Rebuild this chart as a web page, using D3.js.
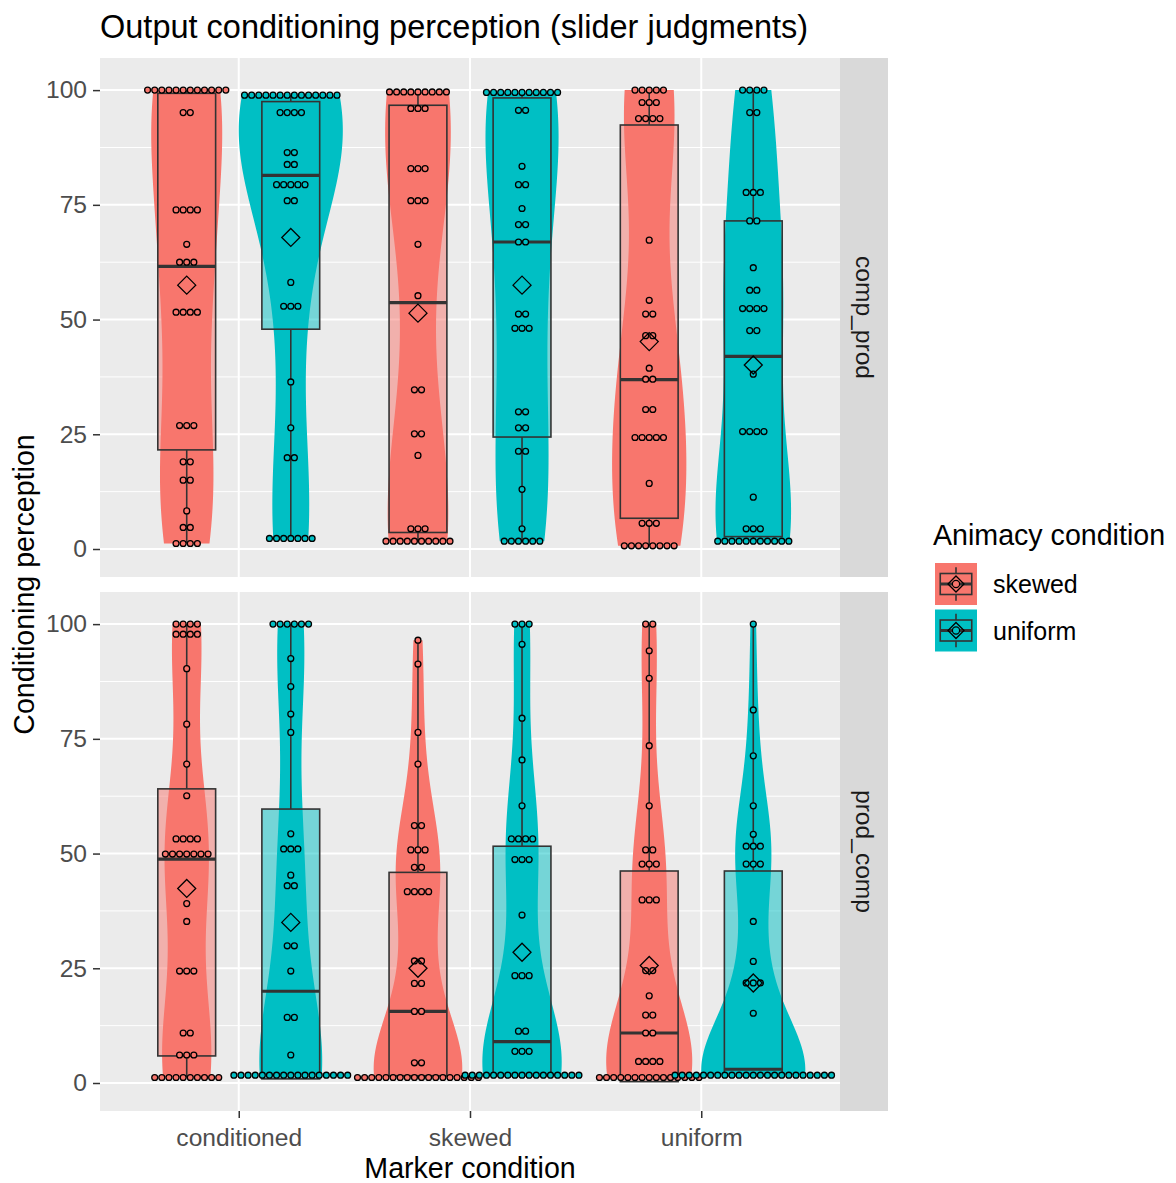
<!DOCTYPE html>
<html>
<head>
<meta charset="utf-8">
<script src="https://cdn.jsdelivr.net/npm/d3@7"></script>
<style>
  body { margin: 0; background: #ffffff; }
  svg { display: block; }
  text { font-family: "Liberation Sans", Arial, sans-serif; }
</style>
</head>
<body>
<svg id="chart" width="1176" height="1183"></svg>
<script>
// ---- categories -------------------------------------------------------
const markerConditions = ["conditioned", "skewed", "uniform"];
const animacyConditions = ["skewed", "uniform"];
const panelNames = ["comp_prod", "prod_comp"];
const yTicks = [0, 25, 50, 75, 100];
const yMinorTicks = [12.5, 37.5, 62.5, 87.5];

// ---- slider responses, as [value, number of participants] --------------
// comp_prod panel
const compProdConditionedSkewed = [[100,12],[95.1,2],[73.9,4],[66.4,1],[62.5,3],[51.6,4],[26.9,3],[19,2],[15,2],[8.3,1],[4.7,2],[1.2,4]];
const compProdConditionedUniform = [[98.9,14],[95.1,4],[86.4,2],[83.8,2],[79.4,5],[75.9,2],[58.1,1],[52.9,3],[36.4,1],[26.4,1],[19.9,2],[2.3,7]];
const compProdSkewedSkewed = [[99.6,9],[96,3],[82.9,3],[75.9,3],[66.4,1],[55.2,1],[34.7,2],[25.1,2],[20.4,1],[4.4,3],[1.7,10]];
const compProdSkewedUniform = [[99.5,11],[95.6,2],[83.4,1],[79.4,2],[74.2,1],[70.7,2],[66.9,2],[51.2,2],[48.1,3],[29.9,2],[26.4,2],[21.3,2],[13,1],[4.4,1],[1.7,6]];
const compProdUniformSkewed = [[100,5],[97.3,3],[93.8,4],[67.3,1],[54.2,1],[51.2,2],[46.5,2],[39.4,1],[37,2],[30.4,2],[24.3,5],[14.3,1],[5.6,3],[0.7,8]];
const compProdUniformUniform = [[100,4],[95.1,2],[77.7,3],[71.5,2],[61.3,1],[56.4,2],[52.4,4],[47.6,2],[38.1,1],[25.6,4],[11.3,1],[4.4,3],[1.7,11]];
// prod_comp panel
const prodCompConditionedSkewed = [[100,4],[97.8,4],[90.3,1],[78.2,1],[69.5,1],[62.6,1],[53.2,4],[49.9,7],[39.1,1],[35.2,1],[24.4,3],[10.9,2],[6.1,3],[1.2,10]];
const prodCompConditionedUniform = [[100,6],[92.5,1],[86.4,1],[80.4,1],[76.4,1],[54.3,1],[51,3],[45.3,1],[43,2],[29.9,2],[24.4,1],[14.3,2],[6.1,1],[1.7,17]];
const prodCompSkewedSkewed = [[96.5,1],[91.3,1],[76.4,1],[69.5,1],[56.1,2],[50.8,3],[47,2],[41.7,4],[26.6,2],[21.7,2],[15.6,2],[4.4,2],[1.2,18]];
const prodCompSkewedUniform = [[100,3],[95.6,1],[79.5,1],[70.4,1],[60.4,1],[53.2,4],[48.7,3],[36.6,1],[23.4,3],[11.3,2],[6.9,3],[1.7,17]];
const prodCompUniformSkewed = [[100,2],[94.2,1],[88.2,1],[73.5,1],[60.4,1],[50.8,2],[47.7,3],[39.9,3],[24.5,2],[19,1],[14.8,2],[10.9,2],[4.7,4],[1.2,15]];
const prodCompUniformUniform = [[100,1],[81.3,1],[71.3,1],[60.4,1],[54.2,1],[51.6,3],[47.7,3],[35.2,1],[26.5,1],[21.8,3],[15.2,1],[1.7,23]];

// ---- box summaries; group order: conditioned/skewed, conditioned/uniform,
//      skewed/skewed, skewed/uniform, uniform/skewed, uniform/uniform ----
const compProdQ1     = [21.6, 47.9, 3.6, 24.4, 6.7, 2.7];
const compProdMedian = [61.6, 81.4, 53.7, 66.9, 36.9, 42.0];
const compProdQ3     = [99.3, 97.5, 96.7, 98.3, 92.4, 71.5];
const compProdMean   = [57.5, 67.9, 51.4, 57.5, 45.2, 40.1];
const prodCompQ1     = [5.9, 0.9, 1.6, 1.6, 0.3, 1.6];
const prodCompMedian = [48.8, 20.0, 15.6, 9.0, 10.9, 3.0];
const prodCompQ3     = [64.1, 59.7, 45.9, 51.6, 46.2, 46.2];
const prodCompMean   = [42.4, 35.0, 25.0, 28.5, 25.6, 21.8];

// ---- assemble panels --------------------------------------------------
const expand = tally => tally.flatMap(([v, n]) => Array(n).fill(v));
const panelTables = [
  { name: panelNames[0], bwAdjust: 1.2,
    responses: [compProdConditionedSkewed, compProdConditionedUniform, compProdSkewedSkewed,
                compProdSkewedUniform, compProdUniformSkewed, compProdUniformUniform],
    q1: compProdQ1, median: compProdMedian, q3: compProdQ3, mean: compProdMean },
  { name: panelNames[1], bwAdjust: 1.0,
    responses: [prodCompConditionedSkewed, prodCompConditionedUniform, prodCompSkewedSkewed,
                prodCompSkewedUniform, prodCompUniformSkewed, prodCompUniformUniform],
    q1: prodCompQ1, median: prodCompMedian, q3: prodCompQ3, mean: prodCompMean }
];

// ---- layout -----------------------------------------------------------
const panelLeft = 100, panelRight = 840, panelH = 519;
const panelTops = [58, 592];
const stripW = 48;
const fills = { skewed: "#F8766D", uniform: "#00BFC4" };
const tickGrey = "#4D4D4D";
const dotBinWidth = 1.55;

const svg = d3.select("#chart");

const xScale = d3.scalePoint().domain(markerConditions)
  .range([panelLeft, panelRight]).padding(0.6);
const step = xScale.step();
const groupW = 0.45 * step;           // dodged slot per animacy level
const boxW = 0.25 * step;
const offsetOf = a => (animacyConditions.indexOf(a) - 0.5) * groupW;

// Silverman's rule (R's bw.nrd0)
function nrd0(values) {
  const s = values.slice().sort(d3.ascending);
  const sd = d3.deviation(s);
  const iqr = d3.quantileSorted(s, 0.75) - d3.quantileSorted(s, 0.25);
  let lo = Math.min(sd, iqr / 1.34);
  if (!(lo > 0)) lo = sd || 1;
  return 0.9 * lo * Math.pow(s.length, -0.2);
}
function kde(values, bw, grid) {
  const c = 1 / (bw * Math.sqrt(2 * Math.PI));
  return grid.map(y => [y, c * d3.mean(values, v => Math.exp(-0.5 * ((y - v) / bw) ** 2))]);
}
// dot-density binning
function dotBins(values, bw) {
  const s = values.slice().sort(d3.ascending);
  const bins = [];
  let end = -Infinity, cur = null;
  s.forEach(v => {
    if (v >= end) { cur = []; bins.push(cur); end = v + bw; }
    cur.push(v);
  });
  return bins.map(b => ({ center: (b[0] + b[b.length - 1]) / 2, count: b.length }));
}
const diamondPath = (cx, cy, r) => `M${cx},${cy - r}L${cx + r},${cy}L${cx},${cy + r}L${cx - r},${cy}Z`;

panelTables.forEach((panel, pi) => {
  const top = panelTops[pi];
  const y = d3.scaleLinear().domain([-6.1, 107]).range([top + panelH, top]);
  const g = svg.append("g");

  // background and grid
  g.append("rect").attr("x", panelLeft).attr("y", top)
    .attr("width", panelRight - panelLeft).attr("height", panelH).attr("fill", "#EBEBEB");
  g.selectAll(".minor").data(yMinorTicks).join("line")
    .attr("x1", panelLeft).attr("x2", panelRight)
    .attr("y1", d => y(d)).attr("y2", d => y(d))
    .attr("stroke", "#ffffff").attr("stroke-width", 1);
  g.selectAll(".major").data(yTicks).join("line")
    .attr("x1", panelLeft).attr("x2", panelRight)
    .attr("y1", d => y(d)).attr("y2", d => y(d))
    .attr("stroke", "#ffffff").attr("stroke-width", 2);
  g.selectAll(".vgrid").data(markerConditions).join("line")
    .attr("x1", d => xScale(d)).attr("x2", d => xScale(d))
    .attr("y1", top).attr("y2", top + panelH)
    .attr("stroke", "#ffffff").attr("stroke-width", 2);

  // facet strip
  g.append("rect").attr("x", panelRight).attr("y", top)
    .attr("width", stripW).attr("height", panelH).attr("fill", "#D9D9D9");
  g.append("text")
    .attr("transform", `translate(${panelRight + stripW / 2},${top + panelH / 2}) rotate(90)`)
    .attr("text-anchor", "middle").attr("dominant-baseline", "central")
    .attr("font-size", 24.6).attr("fill", "#1A1A1A").text(panel.name);

  // y axis
  const yAxis = g.append("g").attr("transform", `translate(${panelLeft},0)`)
    .call(d3.axisLeft(y).tickValues(yTicks).tickSize(7).tickPadding(6));
  yAxis.select(".domain").remove();
  yAxis.selectAll("line").attr("stroke", "#333333").attr("stroke-width", 1.5);
  yAxis.selectAll("text").attr("font-size", 24.6).attr("fill", tickGrey)
    .attr("font-family", "'Liberation Sans', Arial, sans-serif");

  // groups
  const groups = [];
  markerConditions.forEach((m, mi) => {
    animacyConditions.forEach((a, ai) => {
      const k = mi * 2 + ai;
      const values = expand(panel.responses[k]);
      const lo = d3.min(values), hi = d3.max(values);
      const grid = d3.range(512).map(i => lo + (hi - lo) * i / 511);
      groups.push({
        marker: m, animacy: a, values,
        cx: xScale(m) + offsetOf(a),
        q1: panel.q1[k], median: panel.median[k], q3: panel.q3[k], mean: panel.mean[k],
        min: lo, max: hi,
        dens: kde(values, nrd0(values) * panel.bwAdjust, grid)
      });
    });
  });

  // violins, scaled by area within the panel
  const maxD = d3.max(groups, gr => d3.max(gr.dens, d => d[1]));
  const halfW = d3.scaleLinear().domain([0, maxD]).range([0, groupW / 2]);
  groups.forEach(gr => {
    const area = d3.area()
      .x0(d => gr.cx - halfW(d[1])).x1(d => gr.cx + halfW(d[1]))
      .y(d => y(d[0]));
    g.append("path").attr("d", area(gr.dens)).attr("fill", fills[gr.animacy]);
  });

  // box plots
  groups.forEach(gr => {
    const bg = g.append("g");
    bg.append("line").attr("x1", gr.cx).attr("x2", gr.cx)
      .attr("y1", y(gr.q3)).attr("y2", y(gr.max))
      .attr("stroke", "#333333").attr("stroke-width", 1.6);
    bg.append("line").attr("x1", gr.cx).attr("x2", gr.cx)
      .attr("y1", y(gr.q1)).attr("y2", y(gr.min))
      .attr("stroke", "#333333").attr("stroke-width", 1.6);
    bg.append("rect").attr("x", gr.cx - boxW / 2).attr("y", y(gr.q3))
      .attr("width", boxW).attr("height", y(gr.q1) - y(gr.q3))
      .attr("fill", fills[gr.animacy]).attr("fill-opacity", 0.5)
      .attr("stroke", "#333333").attr("stroke-width", 1.6);
    bg.append("line").attr("x1", gr.cx - boxW / 2).attr("x2", gr.cx + boxW / 2)
      .attr("y1", y(gr.median)).attr("y2", y(gr.median))
      .attr("stroke", "#333333").attr("stroke-width", 3.2);
  });

  // dot plots (stacked horizontally, centred)
  const dotD = y(0) - y(dotBinWidth);
  groups.forEach(gr => {
    const dots = [];
    dotBins(gr.values, dotBinWidth).forEach(b => {
      for (let i = 0; i < b.count; i++) {
        dots.push({ x: gr.cx + (i - (b.count - 1) / 2) * dotD, v: b.center });
      }
    });
    g.selectAll(null).data(dots).join("circle")
      .attr("cx", d => d.x).attr("cy", d => y(d.v)).attr("r", dotD / 2 - 0.6)
      .attr("fill", fills[gr.animacy]).attr("stroke", "#000000").attr("stroke-width", 1.3);
  });

  // group means
  groups.forEach(gr => {
    g.append("path").attr("d", diamondPath(gr.cx, y(gr.mean), 9))
      .attr("fill", "none").attr("stroke", "#000000").attr("stroke-width", 1.3);
  });

  // x axis on bottom panel
  if (pi === panelTables.length - 1) {
    const xAxis = svg.append("g").attr("transform", `translate(0,${top + panelH})`)
      .call(d3.axisBottom(xScale).tickSize(7).tickPadding(11));
    xAxis.select(".domain").remove();
    xAxis.selectAll("line").attr("stroke", "#333333").attr("stroke-width", 1.5);
    xAxis.selectAll("text").attr("font-size", 24.6).attr("fill", tickGrey)
      .attr("font-family", "'Liberation Sans', Arial, sans-serif");
  }
});

// ---- titles -----------------------------------------------------------
svg.append("text").attr("x", panelLeft).attr("y", 38)
  .attr("font-size", 32.5).attr("fill", "#000000")
  .text("Output conditioning perception (slider judgments)");
svg.append("text").attr("x", (panelLeft + panelRight) / 2).attr("y", 1178)
  .attr("text-anchor", "middle").attr("font-size", 28.6).attr("fill", "#000000")
  .text("Marker condition");
svg.append("text")
  .attr("transform", `translate(34,${(panelTops[0] + panelTops[1] + panelH) / 2}) rotate(-90)`)
  .attr("text-anchor", "middle").attr("font-size", 28.6).attr("fill", "#000000")
  .text("Conditioning perception");

// ---- legend -----------------------------------------------------------
const legend = svg.append("g").attr("transform", "translate(933,0)");
legend.append("text").attr("x", 0).attr("y", 545)
  .attr("font-size", 28.6).attr("fill", "#000000").text("Animacy condition");
const keySize = 42;
animacyConditions.forEach((a, i) => {
  const kx = 2, ky = 563 + i * 46.5;
  const k = legend.append("g").attr("transform", `translate(${kx},${ky})`);
  k.append("rect").attr("width", keySize).attr("height", keySize).attr("fill", fills[a]);
  const cx = keySize / 2;
  k.append("line").attr("x1", cx).attr("x2", cx).attr("y1", keySize * 0.1).attr("y2", keySize * 0.25)
    .attr("stroke", "#333333").attr("stroke-width", 1.6);
  k.append("line").attr("x1", cx).attr("x2", cx).attr("y1", keySize * 0.75).attr("y2", keySize * 0.9)
    .attr("stroke", "#333333").attr("stroke-width", 1.6);
  k.append("rect").attr("x", keySize * 0.125).attr("y", keySize * 0.25)
    .attr("width", keySize * 0.75).attr("height", keySize * 0.5)
    .attr("fill", fills[a]).attr("fill-opacity", 0.5)
    .attr("stroke", "#333333").attr("stroke-width", 1.6);
  k.append("line").attr("x1", keySize * 0.125).attr("x2", keySize * 0.875)
    .attr("y1", keySize / 2).attr("y2", keySize / 2)
    .attr("stroke", "#333333").attr("stroke-width", 3);
  k.append("circle").attr("cx", cx).attr("cy", keySize / 2).attr("r", 3.6)
    .attr("fill", fills[a]).attr("stroke", "#000000").attr("stroke-width", 1.2);
  k.append("path").attr("d", diamondPath(cx, keySize / 2, 8))
    .attr("fill", "none").attr("stroke", "#000000").attr("stroke-width", 1.3);
  legend.append("text").attr("x", 60).attr("y", ky + keySize / 2)
    .attr("dominant-baseline", "central").attr("font-size", 25).attr("fill", "#000000")
    .text(a);
});
</script>
</body>
</html>
